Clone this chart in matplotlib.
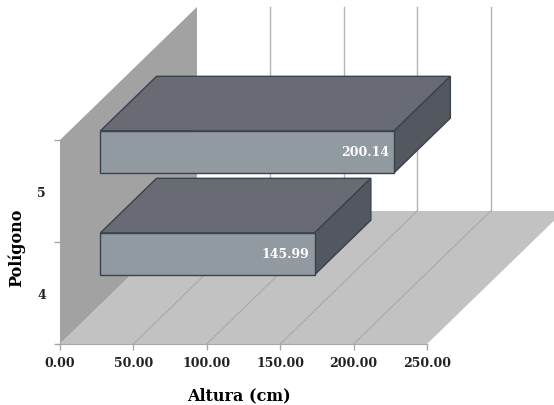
import matplotlib.pyplot as plt
from matplotlib.patches import Polygon

# 数据
poligonos = ['4', '5']
altura = [145.99, 200.14]
x_ticks = [0, 50, 100, 150, 200, 250]

# 斜投影的深度偏移（数据单位）
DEPTH_DX = 93.3
DEPTH_DY = 1.304
BAR_FRONT = 0.295   # 柱体前面所在深度比例
BAR_BACK = 0.705    # 柱体后面所在深度比例
BAR_HALF = 0.205    # 柱体半高

plt.rcParams['font.family'] = ['DejaVu Serif']

fig = plt.figure(figsize=(5.54, 4.06), dpi=100)
ax = fig.add_axes([60 / 554, 61 / 406, 367 / 554, 204 / 406])
x_max = x_ticks[-1]
y_max = len(poligonos)
ax.set_xlim(0, x_max)
ax.set_ylim(0, y_max)


def shift(x, y, f):
    return (x + f * DEPTH_DX, y + f * DEPTH_DY)


# 左侧墙
left_wall = [shift(0, 0, 0), shift(0, y_max, 0), shift(0, y_max, 1), shift(0, 0, 1)]
ax.add_patch(Polygon(left_wall, closed=True, facecolor='#a2a2a2', edgecolor='none',
                     clip_on=False, zorder=1))

# 底面
floor = [shift(0, 0, 0), shift(x_max, 0, 0), shift(x_max, 0, 1), shift(0, 0, 1)]
ax.add_patch(Polygon(floor, closed=True, facecolor='#c2c2c2', edgecolor='none',
                     clip_on=False, zorder=1))

# 背面网格线和底面网格线
for t in x_ticks[1:]:
    bx0, by0 = shift(t, 0, 1)
    bx1, by1 = shift(t, y_max, 1)
    ax.plot([bx0, bx1], [by0, by1], color='#b4b4b4', lw=1, clip_on=False, zorder=2)
    if t < x_max:
        fx, fy = shift(t, 0, 0)
        ax.plot([fx, bx0], [fy, by0], color='#a8a8a8', lw=0.8, clip_on=False, zorder=2)

# 三维柱体
edge = '#3a424c'
for i in range(len(poligonos) - 1, -1, -1):
    c = i + 0.5
    v = altura[i]
    lo, hi = c - BAR_HALF, c + BAR_HALF
    front = [shift(0, lo, BAR_FRONT), shift(v, lo, BAR_FRONT),
             shift(v, hi, BAR_FRONT), shift(0, hi, BAR_FRONT)]
    top = [shift(0, hi, BAR_FRONT), shift(v, hi, BAR_FRONT),
           shift(v, hi, BAR_BACK), shift(0, hi, BAR_BACK)]
    side = [shift(v, lo, BAR_FRONT), shift(v, lo, BAR_BACK),
            shift(v, hi, BAR_BACK), shift(v, hi, BAR_FRONT)]
    ax.add_patch(Polygon(top, closed=True, facecolor='#686b73', edgecolor=edge,
                         lw=1, clip_on=False, zorder=3))
    ax.add_patch(Polygon(side, closed=True, facecolor='#53575f', edgecolor=edge,
                         lw=1, clip_on=False, zorder=3))
    ax.add_patch(Polygon(front, closed=True, facecolor='#9199a1', edgecolor=edge,
                         lw=1, clip_on=False, zorder=4))
    lx, ly = shift(v, c, BAR_FRONT)
    ax.text(lx - 3.5, ly, f'{v:.2f}', color='white', fontsize=9, fontweight='bold',
            ha='right', va='center', zorder=5)

# 坐标轴
for s in ['top', 'right']:
    ax.spines[s].set_visible(False)
for s in ['left', 'bottom']:
    ax.spines[s].set_color('#a6a6a6')
    ax.spines[s].set_zorder(2)
ax.patch.set_visible(False)

ax.set_xticks(x_ticks)
ax.set_xticklabels([f'{t:.2f}' for t in x_ticks], fontsize=9, fontweight='bold',
                   color='#222222')
ax.tick_params(axis='x', length=4, width=1, color='#a6a6a6', pad=5)

ax.set_yticks([i + 0.5 for i in range(len(poligonos))])
ax.set_yticklabels(poligonos, fontsize=9, fontweight='bold', color='#222222')
ax.set_yticks(range(len(poligonos) + 1), minor=True)
ax.tick_params(axis='y', which='major', length=0, pad=10)
ax.tick_params(axis='y', which='minor', length=4, width=1, color='#a6a6a6')

ax.set_xlabel('Altura (cm)', fontsize=11.5, fontweight='bold', labelpad=12)
ax.xaxis.label.set_x(0.487)
ax.set_ylabel('Polígono', fontsize=11.5, fontweight='bold', labelpad=9)
ax.yaxis.label.set_y(0.475)

fig.savefig('out.png', dpi=100)
